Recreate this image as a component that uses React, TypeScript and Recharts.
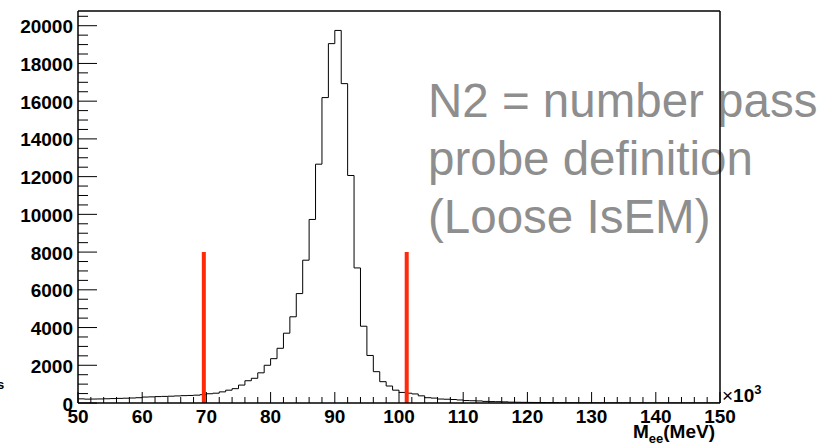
import React from "react";
import { ComposedChart, Line, XAxis, YAxis, ReferenceLine } from "recharts";

// M_ee histogram, 1 GeV bins from 50 to 150 (x10^3 MeV)
const binLow = 50;
const binHigh = 150;
const counts = [
  220, 205, 210, 215, 225, 235, 245, 255, 265, 280,
  315, 325, 340, 350, 360, 375, 390, 400, 415, 440,
  490, 520, 590, 680, 760, 950, 1180, 1310, 1600, 2000,
  2350, 2900, 3700, 4570, 5800, 7570, 9730, 12660, 16190, 19050,
  19750, 16930, 12060, 7160, 4070, 2520, 1660, 1130, 900, 680,
  560, 520, 480, 380, 280, 260, 210, 200, 185, 160,
  130, 120, 110, 85, 75, 70, 60, 45, 40, 35,
  30, 28, 25, 20, 18, 15, 12, 10, 9, 8,
  7, 6, 5, 4, 3, 3, 2, 2, 2, 1,
  1, 1, 1, 1, 0, 1, 0, 0, 1, 0,
];

// selection window (red lines)
const cutLow = 69.6;
const cutHigh = 101.2;
const cutHeight = 8000;

const yTop = 20780;
const xTicks = Array.from({ length: 51 }, (_, i) => 50 + i * 2);
const yTicks = Array.from({ length: 42 }, (_, i) => i * 500);

const noteLines = ["N2 = number pass", "probe definition", "(Loose IsEM)"];

const histData = [
  ...counts.map((n, i) => ({ x: binLow + i, n })),
  { x: binHigh, n: counts[counts.length - 1] },
];

const FONT = "'Liberation Sans', Arial, Helvetica, sans-serif";

function XTick(props: any) {
  const { x, y, payload } = props;
  const v = payload.value;
  const major = v % 10 === 0;
  return (
    <g>
      <line x1={x} x2={x} y1={y} y2={y - (major ? 11 : 6)} stroke="#000" strokeWidth={1} />
      {major && (
        <text x={x} y={y + 13} textAnchor="middle" dominantBaseline="central"
          fontFamily={FONT} fontWeight="bold" fontSize={19} fill="#000">
          {v}
        </text>
      )}
    </g>
  );
}

function YTick(props: any) {
  const { x, y, payload } = props;
  const v = payload.value;
  const major = v % 2000 === 0;
  return (
    <g>
      <line x1={x} x2={x + (major ? 19 : 10)} y1={y} y2={y} stroke="#000" strokeWidth={1} />
      {major && (
        <text x={x - 5} y={y + 1} textAnchor="end" dominantBaseline="central"
          fontFamily={FONT} fontWeight="bold" fontSize={19} fill="#000">
          {v}
        </text>
      )}
    </g>
  );
}

export default function App() {
  return (
    <div style={{ position: "absolute", left: 0, top: 0, width: 830, height: 443, background: "#fff", overflow: "hidden" }}>
      <svg width={830} height={443} style={{ position: "absolute", left: 0, top: 0 }}>
        {noteLines.map((t, i) => (
          <text key={t} x={428} y={117 + i * 58} fontFamily={FONT} fontSize={47.5} fill="#8e8e8e">
            {t}
          </text>
        ))}
        <text x={-3} y={389} fontFamily={FONT} fontWeight="bold" fontSize={13} fill="#000">s</text>
        <text x={722} y={402} fontFamily={FONT} fontSize={19} fill="#000">
          ×<tspan fontWeight="bold">10</tspan>
          <tspan dy={-8} fontSize={13} fontWeight="bold">3</tspan>
        </text>
        <text x={633} y={438} fontFamily={FONT} fontWeight="bold" fontSize={19} fill="#000">
          M<tspan dy={5} fontSize={13}>ee</tspan><tspan dy={-5}>(MeV)</tspan>
        </text>
      </svg>
      <div style={{ position: "absolute", left: 0, top: 0 }}>
        <ComposedChart width={830} height={443} data={histData}
          margin={{ top: 11, right: 110, bottom: 0, left: 0 }}>
          <XAxis type="number" dataKey="x" domain={[binLow, binHigh]} ticks={xTicks}
            interval={0} allowDataOverflow height={40} tickSize={0} tickMargin={0}
            tickLine={false} tick={<XTick />} axisLine={{ stroke: "#000", strokeWidth: 1.5 }} />
          <YAxis type="number" domain={[0, yTop]} ticks={yTicks} interval={0}
            allowDataOverflow width={78} tickSize={0} tickMargin={0}
            tickLine={false} tick={<YTick />} axisLine={{ stroke: "#000", strokeWidth: 1.5 }} />
          <ReferenceLine y={yTop} stroke="#000" strokeWidth={1.5} ifOverflow="extendDomain" />
          <ReferenceLine x={binHigh} stroke="#000" strokeWidth={1.5} ifOverflow="extendDomain" />
          <Line type="stepAfter" dataKey="n" stroke="#000" strokeWidth={1} dot={false}
            isAnimationActive={false} />
          <ReferenceLine segment={[{ x: cutLow, y: 0 }, { x: cutLow, y: cutHeight }]}
            stroke="#ff2a0a" strokeWidth={4} />
          <ReferenceLine segment={[{ x: cutHigh, y: 0 }, { x: cutHigh, y: cutHeight }]}
            stroke="#ff2a0a" strokeWidth={4} />
        </ComposedChart>
      </div>
    </div>
  );
}
